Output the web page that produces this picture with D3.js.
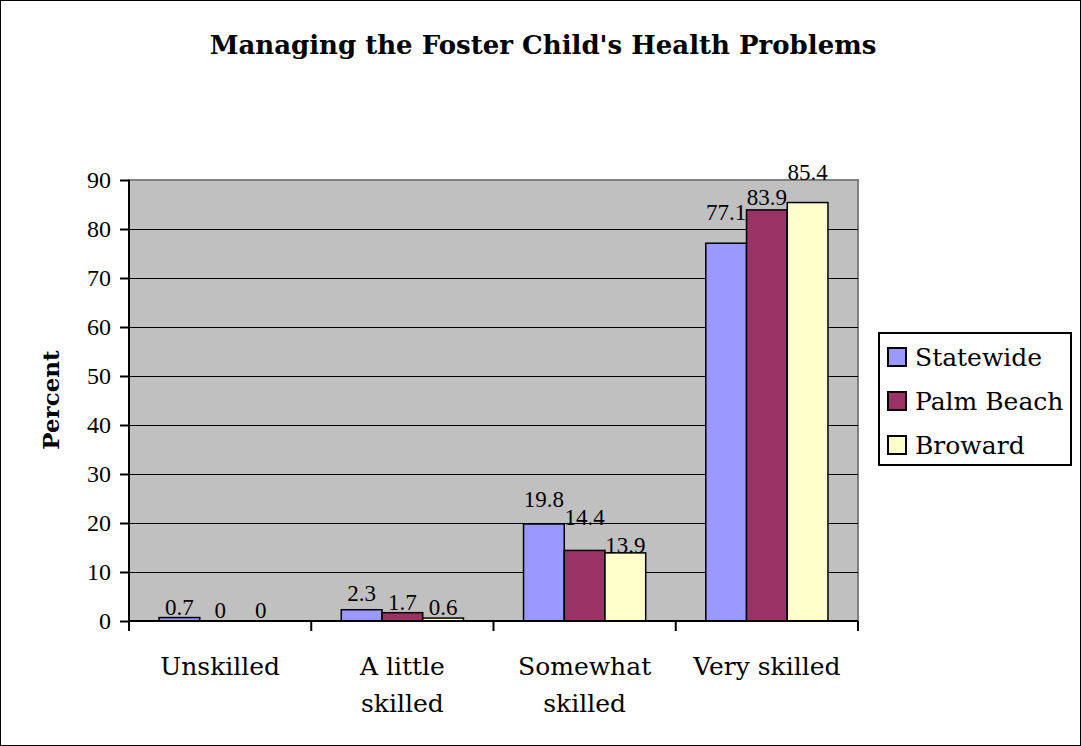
<!DOCTYPE html>
<html>
<head>
<meta charset="utf-8">
<script src="https://cdn.jsdelivr.net/npm/d3@7"></script>
<style>
  body { margin: 0; background: #fff; }
  svg text { font-family: "DejaVu Serif", serif; fill: #000; }
  svg text.num { font-family: "Liberation Serif", "Times New Roman", serif; }
</style>
</head>
<body>
<svg id="chart" width="1081" height="746"></svg>
<script>
// chart data
var categories = [["Unskilled"], ["A little", "skilled"], ["Somewhat", "skilled"], ["Very skilled"]];
var seriesNames = ["Statewide", "Palm Beach", "Broward"];
var statewide = [0.7, 2.3, 19.8, 77.1];
var palmBeach = [0, 1.7, 14.4, 83.9];
var broward = [0, 0.6, 13.9, 85.4];
var yTicks = [0, 10, 20, 30, 40, 50, 60, 70, 80, 90];
var colors = ["#9999ff", "#993366", "#ffffcc"];
// label lift above the bar top, like excel placed them (px)
var labelLift = [[3, 9, 17, 23], [3, 3, 25, 5], [3, 3, 0, 23]];

var values = [statewide, palmBeach, broward];
var svg = d3.select('#chart');
var plot = { left: 129, right: 858, top: 180, bottom: 621 };

// outer frame
svg.append('rect').attr('x', 0.5).attr('y', 0.5).attr('width', 1080).attr('height', 745)
	.attr('fill', '#fff').attr('stroke', '#000').attr('stroke-width', 1);

var catKeys = categories.map(function(c) { return c.join(' '); });
var x = d3.scaleBand().domain(catKeys).range([plot.left, plot.right]);
var bw = x.bandwidth();
var xs = d3.scaleBand().domain(seriesNames).range([bw * 30 / 182, bw * 152 / 182]);
var y = d3.scaleLinear().domain([0, 90]).range([plot.bottom, plot.top]);

// plot area
svg.append('rect').attr('x', plot.left).attr('y', plot.top)
	.attr('width', plot.right - plot.left).attr('height', plot.bottom - plot.top)
	.attr('fill', '#c0c0c0').attr('stroke', '#808080').attr('stroke-width', 2);

// gridlines
svg.append('g').selectAll('line').data(yTicks.slice(1, -1)).enter().append('line')
	.attr('x1', plot.left).attr('x2', plot.right)
	.attr('y1', function(d) { return Math.round(y(d)) + 0.5; })
	.attr('y2', function(d) { return Math.round(y(d)) + 0.5; })
	.attr('stroke', '#000').attr('stroke-width', 1);

// bars
function rows(d, i) {
	return values[i].map(function(v, j) { return { s: d, si: i, c: catKeys[j], ci: j, v: v }; });
}
var groups = svg.append('g').selectAll('g').data(seriesNames).enter().append('g')
	.attr('fill', function(d, i) { return colors[i]; });
groups.selectAll('rect').data(rows).enter().append('rect')
	.attr('x', function(d) { return x(d.c) + xs(d.s); })
	.attr('y', function(d) { return y(d.v); })
	.attr('width', xs.bandwidth())
	.attr('height', function(d) { return plot.bottom - y(d.v); })
	.attr('stroke', '#000').attr('stroke-width', 1.5);

// value labels
groups.selectAll('text').data(rows).enter().append('text')
	.attr('class', 'num')
	.attr('x', function(d) { return x(d.c) + xs(d.s) + xs.bandwidth() / 2; })
	.attr('y', function(d) { return y(d.v) - labelLift[d.si][d.ci]; })
	.attr('text-anchor', 'middle')
	.style('font-size', '23px')
	.style('fill', '#000')
	.text(function(d) { return d.v; });

// y axis
var yAxis = d3.axisLeft(y).tickValues(yTicks).tickSize(9).tickPadding(9);
var gy = svg.append('g').attr('transform', 'translate(' + plot.left + ',0)').call(yAxis);
gy.select('.domain').attr('stroke', '#000').attr('stroke-width', 2).attr('d', 'M0,' + plot.top + 'V' + plot.bottom);
gy.selectAll('.tick line').attr('stroke', '#000').attr('stroke-width', 2);
gy.selectAll('.tick text').attr('class', 'num').style('font-size', '24px')
	.style('font-family', '"Liberation Serif", serif').attr('fill', '#000');

// x axis
var xAxis = d3.axisBottom(x).tickSize(0).tickFormat('');
var gx = svg.append('g').attr('transform', 'translate(0,' + plot.bottom + ')').call(xAxis);
gx.select('.domain').attr('stroke', '#000').attr('stroke-width', 2).attr('d', 'M' + plot.left + ',0H' + plot.right);
var bounds = catKeys.map(function(c) { return x(c); }).concat([plot.right]);
gx.selectAll('line.sep').data(bounds).enter().append('line').attr('class', 'sep')
	.attr('x1', function(d) { return d; }).attr('x2', function(d) { return d; })
	.attr('y1', 0).attr('y2', 10).attr('stroke', '#000').attr('stroke-width', 2);
var catText = svg.append('g').selectAll('text').data(categories).enter().append('text')
	.attr('x', function(d, i) { return x(catKeys[i]) + bw / 2; })
	.attr('y', 675)
	.attr('text-anchor', 'middle')
	.style('font-size', '25px');
catText.selectAll('tspan').data(function(d) { return d; }).enter().append('tspan')
	.attr('x', function() { return d3.select(this.parentNode).attr('x'); })
	.attr('dy', function(d, i) { return i === 0 ? 0 : 37; })
	.text(function(d) { return d; });

// titles
svg.append('text').attr('x', 543).attr('y', 54).attr('text-anchor', 'middle')
	.style('font-size', '26px').style('font-weight', 'bold')
	.text("Managing the Foster Child's Health Problems");
svg.append('text').attr('transform', 'translate(59,400) rotate(-90)').attr('text-anchor', 'middle')
	.style('font-size', '23px').style('font-weight', 'bold').text('Percent');

// legend
var legend = svg.append('g').attr('transform', 'translate(879,333)');
legend.append('rect').attr('width', 192).attr('height', 132)
	.attr('fill', '#fff').attr('stroke', '#000').attr('stroke-width', 2);
var items = legend.selectAll('g.item').data(seriesNames).enter().append('g').attr('class', 'item')
	.attr('transform', function(d, i) { return 'translate(0,' + (24 + i * 44) + ')'; });
items.append('rect').attr('x', 9).attr('y', -9).attr('width', 18).attr('height', 18)
	.attr('fill', function(d, i) { return colors[i]; })
	.attr('stroke', '#000').attr('stroke-width', 2);
items.append('text').attr('x', 36).attr('y', 9).style('font-size', '25px').text(function(d) { return d; });
</script>
</body>
</html>
